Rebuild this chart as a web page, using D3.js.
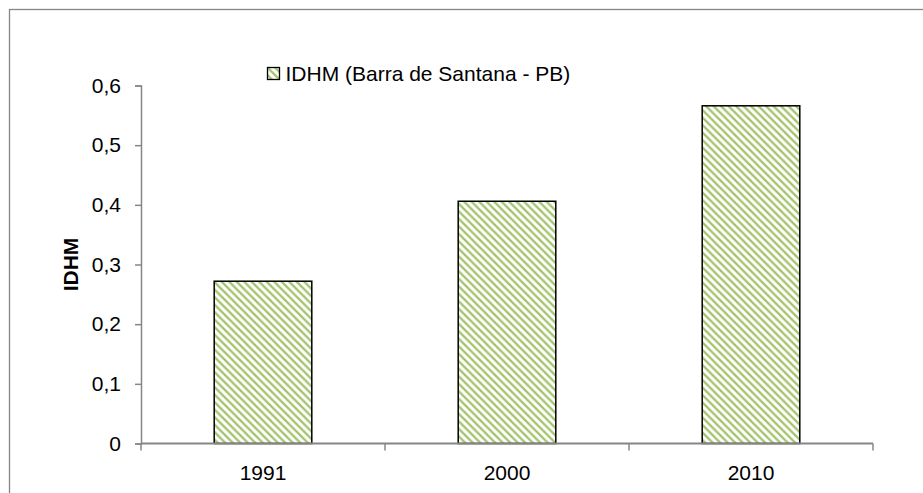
<!DOCTYPE html>
<html>
<head>
<meta charset="utf-8">
<script src="https://cdn.jsdelivr.net/npm/d3@7"></script>
<style>
  body { margin: 0; background: #fff; }
  svg text { font-family: "Liberation Sans", Arial, sans-serif; fill: #000; }
</style>
</head>
<body>
<div id="chart"></div>
<script>
// data
let years = ["1991", "2000", "2010"];
let idhm = [0.272, 0.406, 0.566];
let yTicks = [0, 0.1, 0.2, 0.3, 0.4, 0.5, 0.6];
let seriesName = "IDHM (Barra de Santana - PB)";
let yTitle = "IDHM";

let width = 923;
let height = 493;
let margin = { top: 85.5, right: 50, bottom: 49.5, left: 141 };

let svg = d3.select("#chart")
	.append("svg")
	.attr("width", width)
	.attr("height", height);

// hatch pattern (wide downward diagonal)
let defs = svg.append("defs");
let pat = defs.append("pattern")
	.attr("id", "hatch")
	.attr("patternUnits", "userSpaceOnUse")
	.attr("width", 7.5)
	.attr("height", 7.5);
pat.append("rect").attr("width", 7.5).attr("height", 7.5).attr("fill", "#fff");
pat.append("path")
	.attr("d", "M-1,-1 L8.5,8.5 M-4.75,2.75 L1,8.5 M5.75,-1.75 L9.25,1.75")
	.attr("stroke", "#a4c36c")
	.attr("stroke-width", 2.3);

// outer chart border
svg.append("rect")
	.attr("x", 9.5)
	.attr("y", 9.5)
	.attr("width", 940)
	.attr("height", 520)
	.attr("fill", "none")
	.attr("stroke", "#868686")
	.attr("stroke-width", 1.3);

let x = d3.scaleBand()
	.domain(years)
	.range([margin.left, 873])
	.paddingInner(0.6)
	.paddingOuter(0.3);

let y = d3.scaleLinear()
	.domain([0, 0.6])
	.range([height - margin.bottom, margin.top]);

let fmt = d => d3.format(".1f")(d).replace(".", ",").replace(/^0,0$/, "0");

// bars
svg.append("g")
	.selectAll("rect")
	.data(years)
	.enter()
	.append("rect")
	.attr("x", d => x(d))
	.attr("y", (d, i) => y(idhm[i]))
	.attr("width", x.bandwidth())
	.attr("height", (d, i) => y(0) - y(idhm[i]))
	.attr("fill", "url(#hatch)")
	.attr("stroke", "#000")
	.attr("stroke-width", 1.5);

// y axis
svg.append("g")
	.attr("transform", "translate(" + margin.left + ",0)")
	.call(d3.axisLeft(y).tickValues(yTicks).tickFormat(fmt).tickSize(6).tickPadding(14))
	.call(g => g.select(".domain").attr("stroke", "#868686").attr("stroke-width", 1.5))
	.call(g => g.selectAll(".tick line").attr("stroke", "#868686").attr("stroke-width", 1.5))
	.call(g => g.selectAll(".tick text").attr("font-size", 21).attr("font-family", "Liberation Sans, Arial, sans-serif").attr("fill", "#000"));

// x axis: ticks sit on category boundaries
let xRange = x.range();
let step = x.step();
let boundaries = d3.range(years.length + 1).map(i => xRange[0] + i * step);
let xAxis = svg.append("g")
	.attr("transform", "translate(0," + y(0) + ")");
xAxis.append("line")
	.attr("x1", xRange[0])
	.attr("x2", xRange[1])
	.attr("stroke", "#868686")
	.attr("stroke-width", 1.8);
xAxis.selectAll("line.tk")
	.data(boundaries)
	.enter()
	.append("line")
	.attr("class", "tk")
	.attr("x1", d => d)
	.attr("x2", d => d)
	.attr("y1", 0)
	.attr("y2", 7)
	.attr("stroke", "#868686")
	.attr("stroke-width", 1.5);
xAxis.selectAll("text")
	.data(years)
	.enter()
	.append("text")
	.attr("x", d => x(d) + x.bandwidth() / 2)
	.attr("y", 36)
	.attr("text-anchor", "middle")
	.attr("font-size", 21)
	.text(d => d);

// y title
svg.append("text")
	.attr("transform", "translate(78," + ((y(0) + y(0.6)) / 2) + ") rotate(-90)")
	.attr("text-anchor", "middle")
	.attr("font-size", 21)
	.attr("font-weight", "bold")
	.text(yTitle);

// legend
let legend = svg.append("g").attr("transform", "translate(267.5,67.5)");
legend.append("rect")
	.attr("width", 12)
	.attr("height", 12)
	.attr("fill", "url(#hatch)")
	.attr("stroke", "#000")
	.attr("stroke-width", 1.3);
legend.append("text")
	.attr("x", 18)
	.attr("y", 13.5)
	.attr("font-size", 21)
	.text(seriesName);
</script>
</body>
</html>
